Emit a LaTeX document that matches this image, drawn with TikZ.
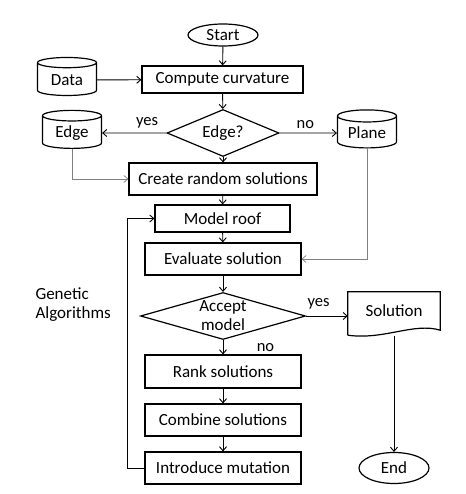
\documentclass[tikz,border=0pt]{standalone}
\usepackage{fontspec}
\setmainfont{Carlito}
\usetikzlibrary{arrows.meta,positioning,shapes.geometric,calc}
\tikzset{
  box/.style={draw,line width=1.2pt,minimum height=#1,inner sep=2pt},
  box/.default={32pt},
  term/.style={draw,line width=1.2pt,ellipse,minimum width=70pt,minimum height=#1,inner sep=1pt},
  store/.style={draw,line width=1.2pt,cylinder,shape border rotate=90,aspect=0.3,minimum width=59pt,minimum height=38pt,inner sep=1pt},
  dec/.style={draw,line width=1.2pt,diamond,inner sep=0pt},
  arr/.style={-{Straight Barb[length=4pt,width=7pt]},line width=0.9pt},
  garr/.style={arr,draw=gray,line width=0.7pt},
  lbl/.style={font=\fontsize{16.5}{18}\selectfont},
}
\begin{document}
\begin{tikzpicture}[x=1pt,y=-1pt,every node/.style={font=\fontsize{17}{19}\selectfont}]
 \useasboundingbox (0,0) rectangle (465,494);
 % main column
 \node[term=22pt] (start) at (223,35) {Start};
 \node[box=27pt,minimum width=161pt] (comp) at (222.5,79.5) {Compute curvature};
 \node[store] (data) at (67,80) {Data};
 \node[dec,minimum width=112pt,minimum height=47pt] (edgeq) at (223,133) {};
 \node at (edgeq.center) {Edge?};
 \node[store] (edge) at (72,133) {Edge};
 \node[store] (plane) at (367,133) {Plane};
 \node[box,minimum width=188pt] (create) at (223,179) {Create random solutions};
 \node[box=27pt,minimum width=135pt] (model) at (222.5,218.5) {Model roof};
 \node[box,minimum width=156pt] (eval) at (223,259) {Evaluate solution};
 \node[dec,minimum width=165pt,minimum height=47pt,label={[align=center,font=\fontsize{17}{19}\selectfont]center:Accept\\model}] (acc) at (223,316) {};
 \node[box=33pt,minimum width=156pt] (rank) at (223,371.5) {Rank solutions};
 \node[box,minimum width=156pt] (comb) at (223,420) {Combine solutions};
 \node[box,minimum width=156pt] (mut) at (223,468) {Introduce mutation};
 \node[align=left,anchor=west] (ga) at (32,305) {Genetic\\Algorithms};
 % output side
 \node[minimum width=92pt,minimum height=38pt,inner sep=0pt] (sol) at (394,311) {Solution};
 \draw[line width=1.2pt] ($(sol.south west)+(0,5)$) -- (sol.north west) -- (sol.north east) -- (sol.south east)
   .. controls ($(sol.south)+(20,-8)$) and ($(sol.south)+(-10,10)$) .. ($(sol.south west)+(0,5)$);
 \coordinate (solb) at ($(sol.south)+(0,6)$);
 \node[term=31pt] (end) at (394,468) {End};
 % connectors
 \draw[arr] (start) -- (comp);
 \draw[arr] (data) -- (comp);
 \draw[arr] (comp) -- (edgeq);
 \draw[arr] (edgeq.west) -- node[lbl,above=1pt,pos=0.3]{yes} (edge);
 \draw[arr] (edgeq.east) -- node[lbl,above=1pt,pos=0.45]{no} (plane);
 \draw[arr] (edgeq.south) -- (create);
 \draw[garr] (edge.south) |- (create.west);
 \draw[arr] (create) -- (model);
 \draw[arr] (model) -- (eval);
 \draw[garr] (plane.south) |- (eval.east);
 \draw[arr] (eval) -- (acc);
 \draw[arr] (acc.south) -- node[lbl,right=30pt,pos=0.5]{no} (rank);
 \draw[arr] (acc.east) -- node[lbl,above=3pt,pos=0.3]{yes} (sol.west |- acc.east);
 \draw[arr] (rank) -- (comb);
 \draw[arr] (comb) -- (mut);
 \draw[arr] (mut.west) -- ++(-17,0) |- (model.west);
 \draw[arr] (solb) -- (end);
\end{tikzpicture}
\end{document}
